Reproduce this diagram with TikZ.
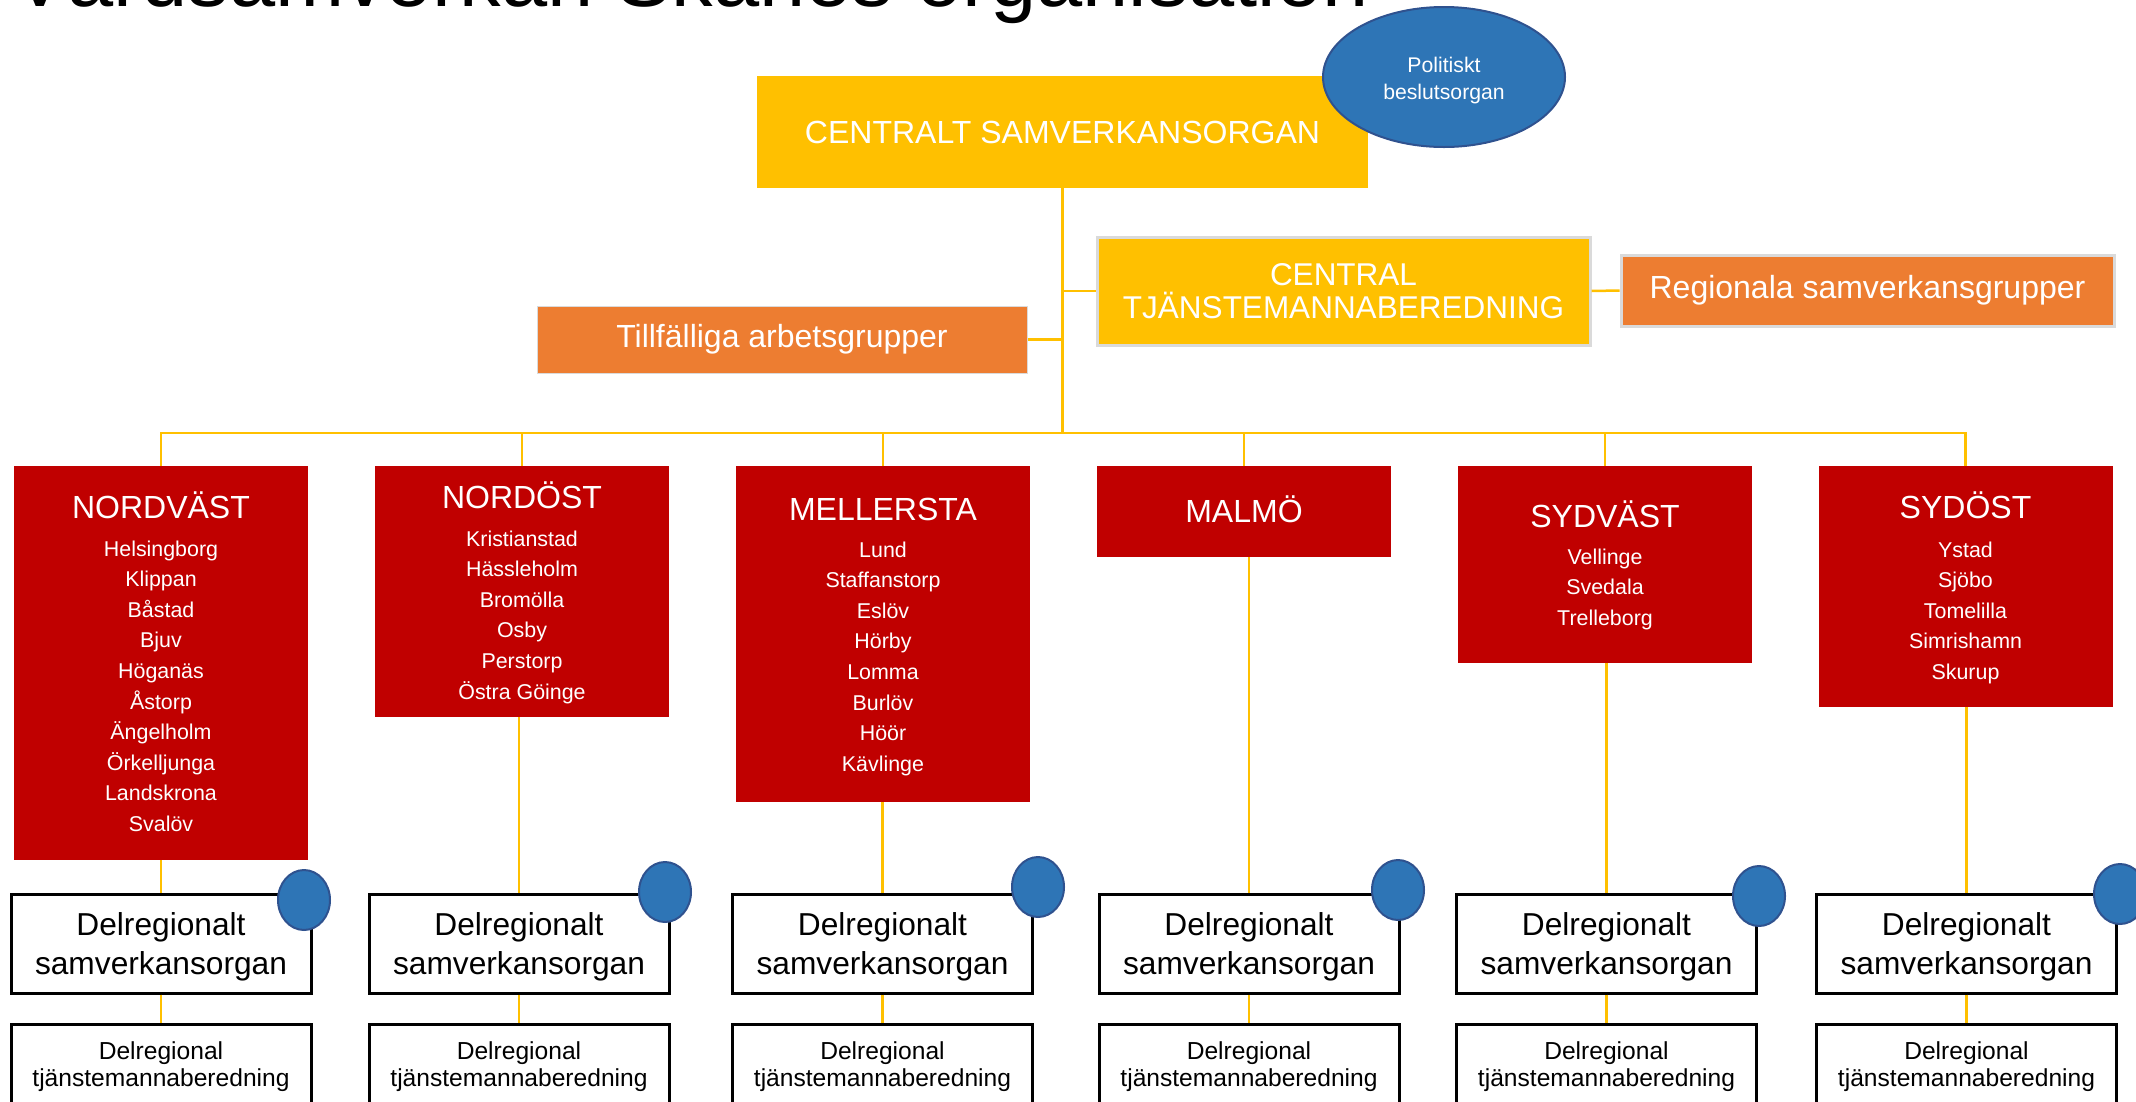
\documentclass[tikz,border=0pt]{standalone}
\usepackage{fontspec}
\setmainfont{Liberation Sans}
\usetikzlibrary{shapes.geometric}
\definecolor{gold}{HTML}{FFC000}
\definecolor{orng}{HTML}{ED7D31}
\definecolor{dred}{HTML}{C00000}
\definecolor{blu}{HTML}{2E75B6}
\definecolor{bluedge}{HTML}{2F528F}
\definecolor{lgray}{HTML}{DADADA}
\newcommand\myfs[2]{\fontsize{#1}{#2}\selectfont}
\tikzset{
  conn/.style={draw=gold, line width=2.5pt},
  redbox/.style={fill=dred, minimum width=294pt, inner sep=0pt, outer sep=0pt},
  rtitle/.style={text=white, font=\myfs{32}{38}, anchor=base, inner sep=0pt},
  city/.style={text=white, font=\myfs{21.4}{26}, anchor=base, inner sep=0pt},
  drbox/.style={draw=black, line width=3pt, fill=white, minimum width=300pt, minimum height=99pt, inner sep=0pt},
  drtext/.style={align=center, font=\myfs{31.7}{38.5}, inner sep=0pt},
  dtbox/.style={draw=black, line width=3pt, fill=white, minimum width=300pt, minimum height=86pt, align=center, font=\myfs{24.6}{27}, inner sep=0pt},
  bluedot/.style={ellipse, fill=blu, draw=bluedge, line width=2pt, minimum width=52pt, minimum height=60pt, inner sep=0pt},
  goldbox/.style={fill=gold, inner sep=0pt, text=white, align=center},
  orbox/.style={fill=orng, inner sep=0pt, text=white, align=center}
}
\begin{document}
\begin{tikzpicture}[x=1pt,y=-1pt]
\clip (0,0) rectangle (2136,1101);
\fill[white] (0,0) rectangle (2136,1101);

% title
\node[anchor=base east, font=\myfs{83}{90}, inner sep=0pt] (title) at (1369,6) {Vårdsamverkan Skånes organisation};

% central
\node[goldbox, minimum width=611pt, minimum height=112pt, font=\myfs{32}{36}] (cs) at (1062.5,132) {CENTRALT SAMVERKANSORGAN};
\node[bluedot, minimum width=242pt, minimum height=140pt] (pb) at (1444,77) {};
\node[text=white, align=center, font=\myfs{21.2}{27}, inner sep=0pt] (pbt) at (1444,81) {Politiskt\\beslutsorgan};
\node[goldbox, draw=lgray, line width=3pt, minimum width=493pt, minimum height=108pt, font=\myfs{31.5}{33}] (ctb) at (1343.5,291) {CENTRAL\\TJÄNSTEMANNABEREDNING};
\node[orbox, draw=lgray, line width=3pt, minimum width=493pt, minimum height=71pt, font=\myfs{32}{38}] (rsg) at (1867.5,290.5) {Regionala samverkansgrupper};
\node[orbox, draw=lgray, line width=1pt, minimum width=490pt, minimum height=67pt, font=\myfs{32}{38}] (tag) at (782,339.5) {Tillfälliga arbetsgrupper};

\coordinate (bus) at (1062.5,433);

% red boxes
\node[redbox, minimum height=394pt] (r1) at (161,663) {};
\node[redbox, minimum height=251pt] (r2) at (522,591.5) {};
\node[redbox, minimum height=336pt] (r3) at (883,634) {};
\node[redbox, minimum height=91pt] (r4) at (1244,511.5) {};
\node[redbox, minimum height=197pt] (r5) at (1605,564.5) {};
\node[redbox, minimum height=241pt] (r6) at (1965.5,586.5) {};

\node[rtitle] (t1) at (161,518) {NORDVÄST};
\node[rtitle] (t2) at (522,508) {NORDÖST};
\node[rtitle] (t3) at (883,520) {MELLERSTA};
\node[rtitle] (t4) at (1244,522) {MALMÖ};
\node[rtitle] (t5) at (1605,527) {SYDVÄST};
\node[rtitle] (t6) at (1965.5,518) {SYDÖST};

\foreach \c [count=\k] in {Helsingborg,Klippan,Båstad,Bjuv,Höganäs,Åstorp,Ängelholm,Örkelljunga,Landskrona,Svalöv}
  \node[city] (c1-\k) at (161,{556+30.6*(\k-1)}) {\c};
\foreach \c [count=\k] in {Kristianstad,Hässleholm,Bromölla,Osby,Perstorp,Östra Göinge}
  \node[city] (c2-\k) at (522,{546+30.6*(\k-1)}) {\c};
\foreach \c [count=\k] in {Lund,Staffanstorp,Eslöv,Hörby,Lomma,Burlöv,Höör,Kävlinge}
  \node[city] (c3-\k) at (883,{557+30.6*(\k-1)}) {\c};
\foreach \c [count=\k] in {Vellinge,Svedala,Trelleborg}
  \node[city] (c5-\k) at (1605,{564+30.6*(\k-1)}) {\c};
\foreach \c [count=\k] in {Ystad,Sjöbo,Tomelilla,Simrishamn,Skurup}
  \node[city] (c6-\k) at (1965.5,{557+30.6*(\k-1)}) {\c};

% delregionala
\foreach \i/\x in {1/161,2/519,3/882.5,4/1249,5/1606.5,6/1966.5}{
  \node[drbox] (d\i) at (\x,943.5) {};
  \node[drtext] (dt\i) at (\x,947) {Delregionalt\\samverkansorgan};
  \node[dtbox] (e\i) at (\x,1067) {Delregional\\tjänstemannaberedning};
  \draw[conn] (d\i.south) -- (e\i.north);
  \draw[conn] (d\i.north) -- (d\i.north |- r\i.south);
  \draw[conn] (r\i.north) |- (bus);
}

\node[bluedot] (b1) at (304,900) {};
\node[bluedot] (b2) at (665,892) {};
\node[bluedot] (b3) at (1038,887) {};
\node[bluedot] (b4) at (1398,890) {};
\node[bluedot] (b5) at (1759,896) {};
\node[bluedot] (b6) at (2120,894) {};

% central connectors
\draw[conn] (cs.south) -- (bus);
\draw[conn] (cs.south |- ctb.west) -- (ctb.west);
\draw[conn] (tag.east) -- (cs.south |- tag.east);
\draw[conn] (ctb.east) -- (rsg.west);
\end{tikzpicture}
\end{document}
